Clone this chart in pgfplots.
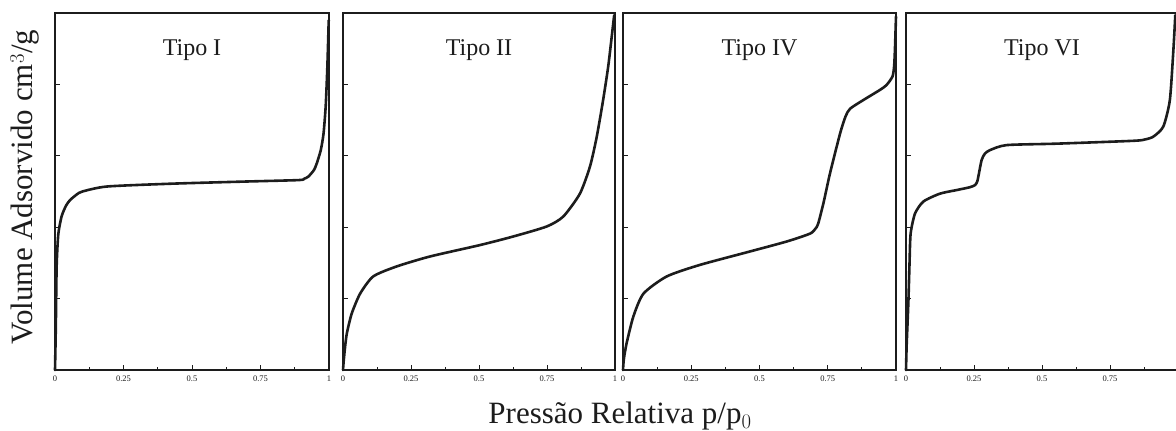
\documentclass[border=0pt]{standalone}
\usepackage{fontspec}
\setmainfont{Liberation Serif}
\usepackage{pgfplots}
\pgfplotsset{compat=1.18}
\definecolor{ink}{HTML}{1C1C1C}
\tikzset{ttl/.style={font=\fontsize{24}{24}\selectfont, text=ink}}
\pgfplotsset{
  panel/.style={
    scale only axis,
    height=357pt,
    xmin=0, xmax=1, ymin=0, ymax=5,
    xtick={0,0.25,0.5,0.75,1},
    xticklabels={0,0.25,0.5,0.75,1},
    minor x tick num=1,
    ytick={1,2,3,4},
    yticklabels={},
    xtick pos=bottom, ytick pos=left,
    tick align=inside,
    major tick length=5pt, minor tick length=3pt,
    every tick/.style={ink, line width=1pt},
    axis line style={ink, line width=2.6pt},
    tick label style={font=\fontsize{8.5}{8.5}\selectfont, text=ink},
    /pgf/number format/assume math mode=true,
    xticklabel style={yshift=-2pt},
    clip=false,
  },
  curve/.style={ink, line width=2.6pt, smooth, tension=0.4, line join=round, line cap=round},
}
\begin{document}
\begin{tikzpicture}[x=1pt,y=1pt]
% Tipo I
\begin{axis}[panel, width=274pt, at={(55pt,61pt)}, anchor=south west]
\addplot[curve] coordinates {(0,0) (0.003,0.6) (0.006,1.45) (0.012,1.9) (0.024,2.15) (0.04,2.30) (0.055,2.38) (0.08,2.46) (0.10,2.50) (0.19,2.57) (0.43,2.61) (0.70,2.64) (0.89,2.66) (0.91,2.68) (0.925,2.71) (0.945,2.80) (0.955,2.89) (0.97,3.08) (0.98,3.31) (0.988,3.7) (0.994,4.25) (0.999,4.9)};
\node[ttl] at (axis description cs:0.5,0.896) {Tipo I};
\end{axis}
% Tipo II
\begin{axis}[panel, width=272pt, at={(343pt,61pt)}, anchor=south west]
\addplot[curve] coordinates {(0,0) (0.002,0.1) (0.007,0.3) (0.014,0.51) (0.032,0.79) (0.063,1.07) (0.111,1.31) (0.197,1.45) (0.32,1.59) (0.504,1.75) (0.626,1.87) (0.749,2.01) (0.81,2.15) (0.871,2.47) (0.908,2.85) (0.932,3.25) (0.955,3.75) (0.975,4.25) (0.991,4.77) (0.997,4.97)};
\node[ttl] at (axis description cs:0.5,0.896) {Tipo II};
\end{axis}
% Tipo IV
\begin{axis}[panel, width=273pt, at={(623pt,61pt)}, anchor=south west]
\addplot[curve] coordinates {(0,0) (0.003,0.15) (0.013,0.37) (0.038,0.75) (0.075,1.07) (0.16,1.31) (0.28,1.47) (0.465,1.66) (0.60,1.80) (0.685,1.91) (0.705,1.98) (0.715,2.05) (0.735,2.35) (0.758,2.75) (0.795,3.31) (0.815,3.55) (0.832,3.66) (0.88,3.78) (0.94,3.92) (0.965,3.99) (0.987,4.11) (0.993,4.25) (0.996,4.48) (1.0,4.95)};
\node[ttl] at (axis description cs:0.5,0.896) {Tipo IV};
\end{axis}
% Tipo VI
\begin{axis}[panel, width=272pt, at={(906pt,61pt)}, anchor=south west, xticklabels={0,0.25,0.5,0.75,{}}]
\addplot[curve] coordinates {(0,0) (0.002,0.3) (0.004,0.5) (0.009,0.98) (0.013,1.5) (0.017,1.91) (0.033,2.19) (0.064,2.36) (0.125,2.47) (0.186,2.52) (0.235,2.56) (0.254,2.59) (0.262,2.64) (0.266,2.71) (0.278,2.94) (0.29,3.03) (0.309,3.08) (0.37,3.15) (0.554,3.17) (0.836,3.21) (0.88,3.23) (0.91,3.27) (0.946,3.41) (0.97,3.78) (0.983,4.48) (0.99,4.97)};
\node[ttl] at (axis description cs:0.5,0.896) {Tipo VI};
\end{axis}
\node[font=\fontsize{31}{31}\selectfont, text=ink] at (620pt,15pt) {Pressão Relativa p/p$_0$};
\node[font=\fontsize{31}{31}\selectfont, text=ink, rotate=90] at (25pt,244pt) {Volume Adsorvido cm$^3$/g};
\pgfresetboundingbox
\useasboundingbox (0,0) rectangle (1176pt,431pt);
\end{tikzpicture}
\end{document}
